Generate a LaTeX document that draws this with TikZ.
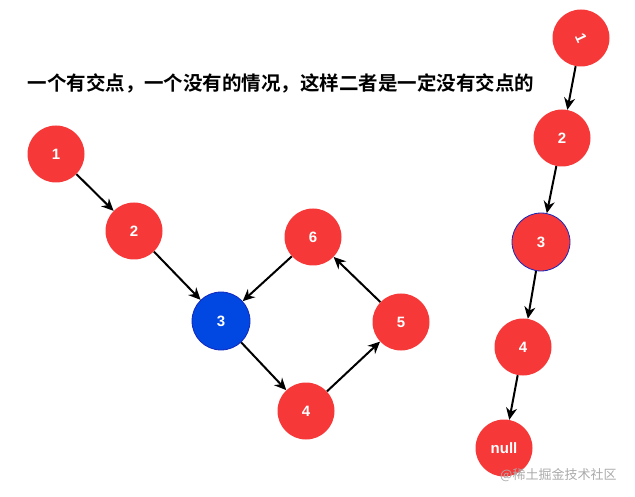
\documentclass[tikz,border=0pt]{standalone}
\usepackage{fontspec}
\setmainfont{Liberation Sans}
\newfontfamily\cjk{Noto Sans CJK SC}
\newfontfamily\cjkb{Noto Sans CJK SC Bold}
\usetikzlibrary{arrows.meta}
\definecolor{nodered}{RGB}{246,56,56}
\definecolor{nodeblue}{RGB}{0,72,225}
\definecolor{blueedge}{RGB}{20,40,190}
\definecolor{wmgray}{RGB}{170,170,170}
\begin{document}
\begin{tikzpicture}[x=1pt,y=-1pt,
  lnode/.style={circle,fill=nodered,minimum size=57pt,inner sep=0pt,text=white,font=\bfseries\fontsize{15}{15}\selectfont},
  bnode/.style={lnode,fill=nodeblue,draw=blueedge,line width=0.8pt,minimum size=58pt},
  link/.style={-{Stealth[length=12pt,width=11pt]},line width=2pt,black}]
\useasboundingbox (0,0) rectangle (635,497);
\node[font=\cjkb\fontsize{19.5}{20}\selectfont] (title) at (281,83) {一个有交点，一个没有的情况，这样二者是一定没有交点的};
% left graph
\node[lnode] (a1) at (56,154) {1};
\node[lnode] (a2) at (134,231) {2};
\node[bnode] (a3) at (221,321) {3};
\node[lnode] (a6) at (313,237) {6};
\node[lnode] (a5) at (401,322) {5};
\node[lnode] (a4) at (306,411) {4};
\draw[link] (a1) -- (a2);
\draw[link] (a2) -- (a3);
\draw[link] (a3) -- (a4);
\draw[link] (a4) -- (a5);
\draw[link] (a5) -- (a6);
\draw[link] (a6) -- (a3);
% right list
\node[lnode] (b1) at (581,38) {\rotatebox{-65}{1}};
\node[lnode] (b2) at (562,138) {2};
\node[lnode,draw=blueedge,line width=0.8pt,minimum size=58pt] (b3) at (541,242) {3};
\node[lnode] (b4) at (523,347) {4};
\node[lnode] (b5) at (504,448) {null};
\draw[link] (b1) -- (b2);
\draw[link] (b2) -- (b3);
\draw[link] (b3) -- (b4);
\draw[link] (b4) -- (b5);
\node[font=\cjk\fontsize{13}{13}\selectfont,text=wmgray,anchor=west,inner sep=0pt] (wm) at (500,475) {@稀土掘金技术社区};
\end{tikzpicture}
\end{document}
